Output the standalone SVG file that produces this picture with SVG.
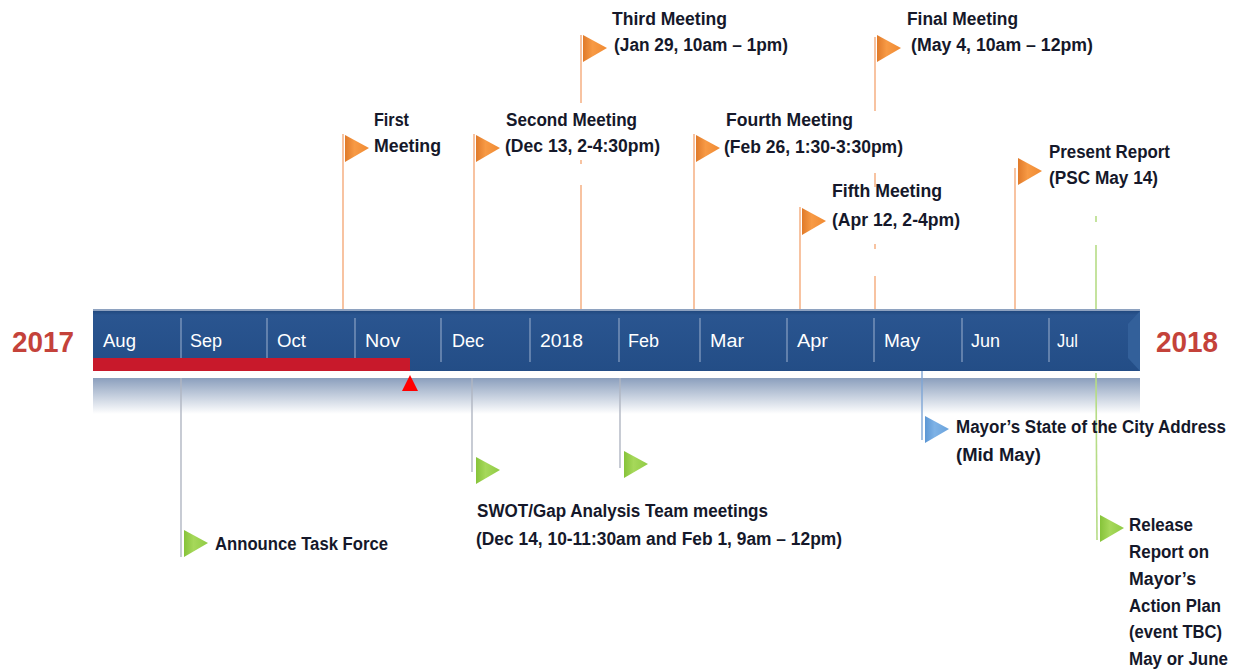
<svg xmlns="http://www.w3.org/2000/svg" width="1241" height="672" viewBox="0 0 1241 672">
<style>
.t{font-family:"Liberation Sans Narrow","Liberation Sans",Arial,sans-serif;font-weight:bold;font-size:18px;fill:#15182a;}
.m{font-family:"Liberation Sans Narrow","Liberation Sans",Arial,sans-serif;font-size:18px;fill:#ffffff;}
.yr{font-family:"Liberation Sans","Arial",sans-serif;font-weight:bold;font-size:29px;fill:#c4423a;}
.op{stroke:#f6b48a;stroke-width:1.6;fill:none;}
.gp{stroke:#b0b6c2;stroke-width:1.4;fill:none;}
.grp{stroke:#b6dc86;stroke-width:1.6;fill:none;}
.bp{stroke:#7fa6d6;stroke-width:1.4;fill:none;}
.div{stroke:#8aa2c4;stroke-width:1.2;}
</style>
<defs>
<linearGradient id="barG" x1="0" y1="0" x2="0" y2="1">
<stop offset="0" stop-color="#1d4377"/>
<stop offset="0.1" stop-color="#2a5590"/>
<stop offset="1" stop-color="#234d86"/>
</linearGradient>
<linearGradient id="bandG" x1="0" y1="0" x2="0" y2="1">
<stop offset="0" stop-color="#8b9fbd"/>
<stop offset="1" stop-color="#ffffff"/>
</linearGradient>
<linearGradient id="orG" x1="0" y1="0" x2="1" y2="0">
<stop offset="0" stop-color="#e07a2a"/>
<stop offset="0.4" stop-color="#f79a45"/>
<stop offset="1" stop-color="#f08a32"/>
</linearGradient>
<linearGradient id="grG" x1="0" y1="0" x2="1" y2="0">
<stop offset="0" stop-color="#86c33a"/>
<stop offset="0.4" stop-color="#a6d85a"/>
<stop offset="1" stop-color="#90cb45"/>
</linearGradient>
<linearGradient id="blG" x1="0" y1="0" x2="1" y2="0">
<stop offset="0" stop-color="#5b96d4"/>
<stop offset="0.4" stop-color="#7eb2e6"/>
<stop offset="1" stop-color="#6aa3dc"/>
</linearGradient>
<polygon id="flag" points="2,0 26,13 2,27"/>
</defs>
<rect width="1241" height="672" fill="#ffffff"/>

<g id="timeline">
<rect x="93" y="378" width="1047" height="36" fill="url(#bandG)"/>
<rect x="93" y="309" width="1047" height="62" fill="url(#barG)"/>
<rect x="93" y="309" width="1047" height="2" fill="#8ea2c0"/>
<polygon points="1128,324 1140,311 1140,371 1128,358" fill="#33609a"/>
<line class="div" x1="181" y1="318" x2="181" y2="362"/>
<line class="div" x1="267" y1="318" x2="267" y2="362"/>
<line class="div" x1="355" y1="318" x2="355" y2="362"/>
<line class="div" x1="441" y1="318" x2="441" y2="362"/>
<line class="div" x1="530" y1="318" x2="530" y2="362"/>
<line class="div" x1="619" y1="318" x2="619" y2="362"/>
<line class="div" x1="700" y1="318" x2="700" y2="362"/>
<line class="div" x1="787" y1="318" x2="787" y2="362"/>
<line class="div" x1="874" y1="318" x2="874" y2="362"/>
<line class="div" x1="962" y1="318" x2="962" y2="362"/>
<line class="div" x1="1049" y1="318" x2="1049" y2="362"/>
<text class="m" x="103" y="347" textLength="33" lengthAdjust="spacingAndGlyphs">Aug</text>
<text class="m" x="190" y="347" textLength="32" lengthAdjust="spacingAndGlyphs">Sep</text>
<text class="m" x="277" y="347" textLength="29" lengthAdjust="spacingAndGlyphs">Oct</text>
<text class="m" x="365" y="347" textLength="35" lengthAdjust="spacingAndGlyphs">Nov</text>
<text class="m" x="452" y="347" textLength="32" lengthAdjust="spacingAndGlyphs">Dec</text>
<text class="m" x="540" y="347" textLength="43" lengthAdjust="spacingAndGlyphs">2018</text>
<text class="m" x="628" y="347" textLength="31" lengthAdjust="spacingAndGlyphs">Feb</text>
<text class="m" x="710" y="347" textLength="34" lengthAdjust="spacingAndGlyphs">Mar</text>
<text class="m" x="797" y="347" textLength="31" lengthAdjust="spacingAndGlyphs">Apr</text>
<text class="m" x="884" y="347" textLength="36" lengthAdjust="spacingAndGlyphs">May</text>
<text class="m" x="971" y="347" textLength="29" lengthAdjust="spacingAndGlyphs">Jun</text>
<text class="m" x="1057" y="347" textLength="21" lengthAdjust="spacingAndGlyphs">Jul</text>
<rect x="93" y="358" width="317" height="13" fill="#c8192b"/>
<polygon points="410,375 418,391 402,391" fill="#ff0000"/>
<text class="yr" x="12" y="352" textLength="62" lengthAdjust="spacingAndGlyphs">2017</text>
<text class="yr" x="1156" y="352" textLength="62" lengthAdjust="spacingAndGlyphs">2018</text>
</g>

<g id="connectors">
<line class="op" x1="343" y1="134" x2="343" y2="309"/>
<line class="op" x1="474" y1="134" x2="474" y2="309"/>
<line class="op" x1="581" y1="35" x2="581" y2="103"/>
<line class="op" x1="581" y1="160" x2="581" y2="164"/>
<line class="op" x1="581" y1="185" x2="581" y2="309"/>
<line class="op" x1="694" y1="134" x2="694" y2="309"/>
<line class="op" x1="800" y1="207" x2="800" y2="309"/>
<line class="op" x1="875" y1="37" x2="875" y2="111"/>
<line class="op" x1="875" y1="173" x2="875" y2="187"/>
<line class="op" x1="875" y1="244" x2="875" y2="249"/>
<line class="op" x1="875" y1="276" x2="875" y2="309"/>
<line class="op" x1="1015" y1="168" x2="1015" y2="309"/>
<line class="grp" x1="1096" y1="216" x2="1096" y2="222"/>
<line class="grp" x1="1096" y1="245" x2="1096" y2="309"/>
<line class="grp" x1="1096" y1="373" x2="1097" y2="540"/>
<line class="gp" x1="181" y1="378" x2="181" y2="557"/>
<line class="gp" x1="472" y1="378" x2="472" y2="472"/>
<line class="gp" x1="620" y1="378" x2="620" y2="468"/>
<line class="bp" x1="922" y1="371" x2="922" y2="440"/>
</g>

<g id="first-meeting">
<use href="#flag" x="343" y="135" fill="url(#orG)"/>
<text class="t" x="374" y="126" textLength="35" lengthAdjust="spacingAndGlyphs">First</text>
<text class="t" x="374" y="152" textLength="67" lengthAdjust="spacingAndGlyphs">Meeting</text>
</g>
<g id="second-meeting">
<use href="#flag" x="474" y="135" fill="url(#orG)"/>
<text class="t" x="506" y="126" textLength="131" lengthAdjust="spacingAndGlyphs">Second Meeting</text>
<text class="t" x="505" y="152" textLength="155" lengthAdjust="spacingAndGlyphs">(Dec 13, 2-4:30pm)</text>
</g>
<g id="third-meeting">
<use href="#flag" x="581" y="35" fill="url(#orG)"/>
<text class="t" x="612" y="25" textLength="115" lengthAdjust="spacingAndGlyphs">Third Meeting</text>
<text class="t" x="614" y="51" textLength="174" lengthAdjust="spacingAndGlyphs">(Jan 29, 10am – 1pm)</text>
</g>
<g id="fourth-meeting">
<use href="#flag" x="694" y="135" fill="url(#orG)"/>
<text class="t" x="726" y="126" textLength="127" lengthAdjust="spacingAndGlyphs">Fourth Meeting</text>
<text class="t" x="724" y="153" textLength="179" lengthAdjust="spacingAndGlyphs">(Feb 26, 1:30-3:30pm)</text>
</g>
<g id="fifth-meeting">
<use href="#flag" x="800" y="208" fill="url(#orG)"/>
<text class="t" x="832" y="197" textLength="110" lengthAdjust="spacingAndGlyphs">Fifth Meeting</text>
<text class="t" x="832" y="226" textLength="128" lengthAdjust="spacingAndGlyphs">(Apr 12, 2-4pm)</text>
</g>
<g id="final-meeting">
<use href="#flag" x="875" y="35" fill="url(#orG)"/>
<text class="t" x="907" y="25" textLength="111" lengthAdjust="spacingAndGlyphs">Final Meeting</text>
<text class="t" x="911" y="51" textLength="182" lengthAdjust="spacingAndGlyphs">(May 4, 10am – 12pm)</text>
</g>
<g id="present-report">
<use href="#flag" x="1016" y="158" fill="url(#orG)"/>
<text class="t" x="1049" y="158" textLength="121" lengthAdjust="spacingAndGlyphs">Present Report</text>
<text class="t" x="1049" y="184" textLength="109" lengthAdjust="spacingAndGlyphs">(PSC May 14)</text>
</g>
<g id="announce-task-force">
<use href="#flag" x="182" y="530" fill="url(#grG)"/>
<text class="t" x="215" y="550" textLength="173" lengthAdjust="spacingAndGlyphs">Announce Task Force</text>
</g>
<g id="swot-meetings">
<use href="#flag" x="474" y="457" fill="url(#grG)"/>
<use href="#flag" x="622" y="451" fill="url(#grG)"/>
<text class="t" x="477" y="517" textLength="291" lengthAdjust="spacingAndGlyphs">SWOT/Gap Analysis Team meetings</text>
<text class="t" x="476" y="545" textLength="366" lengthAdjust="spacingAndGlyphs">(Dec 14, 10-11:30am and Feb 1, 9am – 12pm)</text>
</g>
<g id="state-of-city">
<use href="#flag" x="923" y="416" fill="url(#blG)"/>
<text class="t" x="956" y="433" textLength="270" lengthAdjust="spacingAndGlyphs">Mayor’s State of the City Address</text>
<text class="t" x="956" y="461" textLength="85" lengthAdjust="spacingAndGlyphs">(Mid May)</text>
</g>
<g id="release-report">
<use href="#flag" x="1098" y="515" fill="url(#grG)"/>
<text class="t" x="1129" y="531" textLength="64" lengthAdjust="spacingAndGlyphs">Release</text>
<text class="t" x="1129" y="558" textLength="80" lengthAdjust="spacingAndGlyphs">Report on</text>
<text class="t" x="1129" y="585" textLength="67" lengthAdjust="spacingAndGlyphs">Mayor’s</text>
<text class="t" x="1129" y="612" textLength="92" lengthAdjust="spacingAndGlyphs">Action Plan</text>
<text class="t" x="1129" y="638" textLength="93" lengthAdjust="spacingAndGlyphs">(event TBC)</text>
<text class="t" x="1129" y="665" textLength="99" lengthAdjust="spacingAndGlyphs">May or June</text>
</g>
</svg>
